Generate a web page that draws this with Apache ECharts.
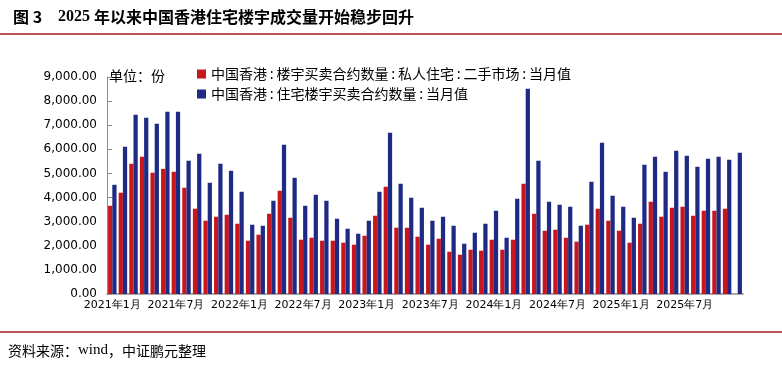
<!DOCTYPE html>
<html>
<head>
<meta charset="utf-8">
<script src="https://cdn.jsdelivr.net/npm/echarts@6/dist/echarts.min.js"></script>
<style>
html,body{margin:0;padding:0;background:#fff;}
#c{width:782px;height:366px;}
</style>
</head>
<body>
<div id="c"></div>
<script>
const categories = [];
for (let y = 2021; y <= 2025; y++) {
  for (let m = 1; m <= 12; m++) categories.push(y + '年' + m + '月');
}
const seriesNames = [
  '中国香港:楼宇买卖合约数量:私人住宅:二手市场:当月值',
  '中国香港:住宅楼宇买卖合约数量:当月值'
];
const legendLabels = [
  '中国香港\u2009:\u2009楼宇买卖合约数量\u2009:\u2009私人住宅\u2009:\u2009二手市场\u2009:\u2009当月值',
  '中国香港\u2009:\u2009住宅楼宇买卖合约数量\u2009:\u2009当月值'
];
const secondHandPrivate = [
  3660, 4200, 5400, 5690, 5030, 5190, 5070, 4406, 3536, 3039, 3204, 3287,
  2914, 2210, 2459, 3329, 4282, 3163, 2251, 2334, 2210, 2210, 2127, 2044,
  2417, 3246, 4448, 2749, 2749, 2376, 2044, 2293, 1754, 1630, 1837, 1796,
  2251, 1837, 2251, 4572, 3329, 2624, 2666, 2334, 2169, 2873, 3536, 3039,
  2624, 2127, 2914, 3826, 3204, 3577, 3619, 3246, 3453, 3453, 3536, null
];
const residentialTotal = [
  4530, 6105, 7430, 7310, 7060, 7555, 7555, 5525, 5815, 4613, 5400, 5110,
  4240, 2873, 2831, 3867, 6188, 4820, 3660, 4116, 3867, 3122, 2707, 2500,
  3039, 4240, 6685, 4572, 3992, 3577, 3039, 3204, 2831, 2086, 2541, 2914,
  3453, 2334, 3950, 8508, 5525, 3826, 3702, 3619, 2831, 4655, 6271, 4075,
  3619, 3163, 5359, 5691, 5069, 5939, 5732, 5276, 5608, 5691, 5566, 5856
];
const yTicks = [0, 1000, 2000, 3000, 4000, 5000, 6000, 7000, 8000, 9000];

const RED = '#C8161E';
const BLUE = '#1F2A84';

const chart = echarts.init(document.getElementById('c'), null, {renderer: 'canvas'});
chart.setOption({
  animation: false,
  backgroundColor: '#fff',
  title: {
    text: '{a|图 3}{b|    2025 }{c|年以来中国香港住宅楼宇成交量开始稳步回升}',
    left: 8, top: 4,
    textStyle: {
      rich: {
        a: {fontFamily: 'Noto Sans CJK SC', fontWeight: 'bold', fontSize: 16, color: '#000'},
        b: {fontFamily: 'Liberation Serif', fontWeight: 'bold', fontSize: 16, color: '#000'},
        c: {fontFamily: 'Noto Sans CJK SC', fontWeight: 'bold', fontSize: 16, color: '#000'}
      }
    }
  },
  graphic: [
    {type: 'line', shape: {x1: 0, y1: 34, x2: 782, y2: 34}, style: {stroke: '#A01C24', lineWidth: 1.5}},
    {type: 'line', shape: {x1: 0, y1: 332, x2: 782, y2: 332}, style: {stroke: '#A01C24', lineWidth: 1.5}},
    {type: 'text', left: 109, top: 69, style: {text: '单位：份', fontSize: 14, fill: '#000', fontFamily: 'Noto Sans CJK SC'}},
    {type: 'text', left: 8, top: 343, style: {
      text: '{a|资料来源：}{b|wind}{a|，中证鹏元整理}',
      rich: {
        a: {fontSize: 14, fill: '#000', fontFamily: 'Noto Sans CJK SC'},
        b: {fontSize: 15, fill: '#000', fontFamily: 'Liberation Serif'}
      }
    }}
  ],
  legend: {
    orient: 'vertical',
    left: 192, top: 62,
    itemWidth: 9, itemHeight: 9, itemGap: 6,
    icon: 'rect',
    textStyle: {fontSize: 14, color: '#000', fontFamily: 'Noto Sans CJK SC'},
    formatter: name => legendLabels[seriesNames.indexOf(name)],
    data: seriesNames
  },
  grid: {left: 107, right: 39, top: 77, bottom: 72, containLabel: false},
  xAxis: {
    type: 'category',
    data: categories,
    boundaryGap: true,
    axisLine: {lineStyle: {color: '#8c8c8c', width: 1.5}},
    axisTick: {show: false},
    axisLabel: {interval: 5, fontSize: 11, color: '#000', margin: 6, fontFamily: 'DejaVu Sans'},
    splitLine: {show: false}
  },
  yAxis: {
    type: 'value',
    min: yTicks[0], max: yTicks[yTicks.length - 1], interval: 1000,
    axisLine: {show: true, lineStyle: {color: '#8c8c8c', width: 1}},
    axisTick: {show: true, inside: true, length: 5, lineStyle: {color: '#8c8c8c'}},
    splitLine: {show: false},
    axisLabel: {
      fontSize: 12, color: '#000', margin: 10, fontFamily: 'DejaVu Sans',
      formatter: v => v.toLocaleString('en-US', {minimumFractionDigits: 2, maximumFractionDigits: 2})
    }
  },
  series: [
    {name: seriesNames[0], type: 'bar', data: secondHandPrivate, itemStyle: {color: RED},
     barGap: '0%', barCategoryGap: '20%'},
    {name: seriesNames[1], type: 'bar', data: residentialTotal, itemStyle: {color: BLUE},
     barGap: '0%', barCategoryGap: '20%'}
  ]
});
</script>
</body>
</html>
